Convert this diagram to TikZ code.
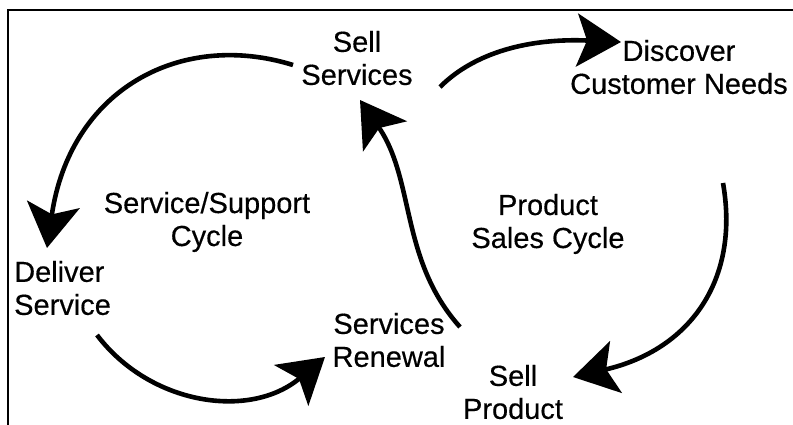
\documentclass[tikz,border=0pt]{standalone}
\usepackage{fontspec}
\setmainfont{Liberation Sans}
\newfontfamily\lblfont[FakeBold=0.4]{Liberation Sans}
\usetikzlibrary{arrows.meta}
\begin{document}
\begin{tikzpicture}[x=1pt,y=-1pt,
  lbl/.style={inner sep=0pt,align=center,font=\lblfont\fontsize{29}{33}\selectfont},
  cyc/.style={line width=4.6pt,-{Stealth[length=44pt,width=53pt,inset=10pt]}}]
\useasboundingbox (0,0) rectangle (793,425);
% frame (top and left edges only)
\draw[line width=2pt] (8,425) -- (8,10) -- (793,10);

% labels
\node[lbl] (sellsvc)  at (357,58)  {Sell\\Services};
\node[lbl] (discover) at (679,67)  {Discover\\Customer Needs};
\node[lbl] (sscycle)  at (207,222) {Service/Support\\Cycle};
\node[lbl] (pscycle)  at (548,224) {Product\\Sales Cycle};
\node[lbl,align=left,anchor=west] (deliver) at (14,288) {Deliver\\Service};
\node[lbl] (renewal)  at (389,340) {Services\\Renewal};
\node[lbl] (sellprod) at (513,392) {Sell\\Product};

% arrow ends
\coordinate (a1s) at (440,87);   \coordinate (a1e) at (621,42);
\coordinate (a2s) at (723,183);  \coordinate (a2e) at (573,377);
\coordinate (a3s) at (460,327);  \coordinate (a3e) at (360,100);
\coordinate (a4s) at (293,65);   \coordinate (a4e) at (47,248);
\coordinate (a5s) at (97,335);   \coordinate (a5e) at (325,357);

% product sales cycle
\draw[cyc] (a1s) .. controls (475,52) and (530,38) .. (a1e);
\draw[cyc] (a2s) .. controls (740,280) and (690,350) .. (a2e);
\draw[cyc] (a3s) .. controls (400,260) and (415,180) .. (a3e);
% service/support cycle
\draw[cyc] (a4s) .. controls (180,30) and (70,90) .. (a4e);
\draw[cyc] (a5s) .. controls (150,405) and (250,420) .. (a5e);
\end{tikzpicture}
\end{document}
